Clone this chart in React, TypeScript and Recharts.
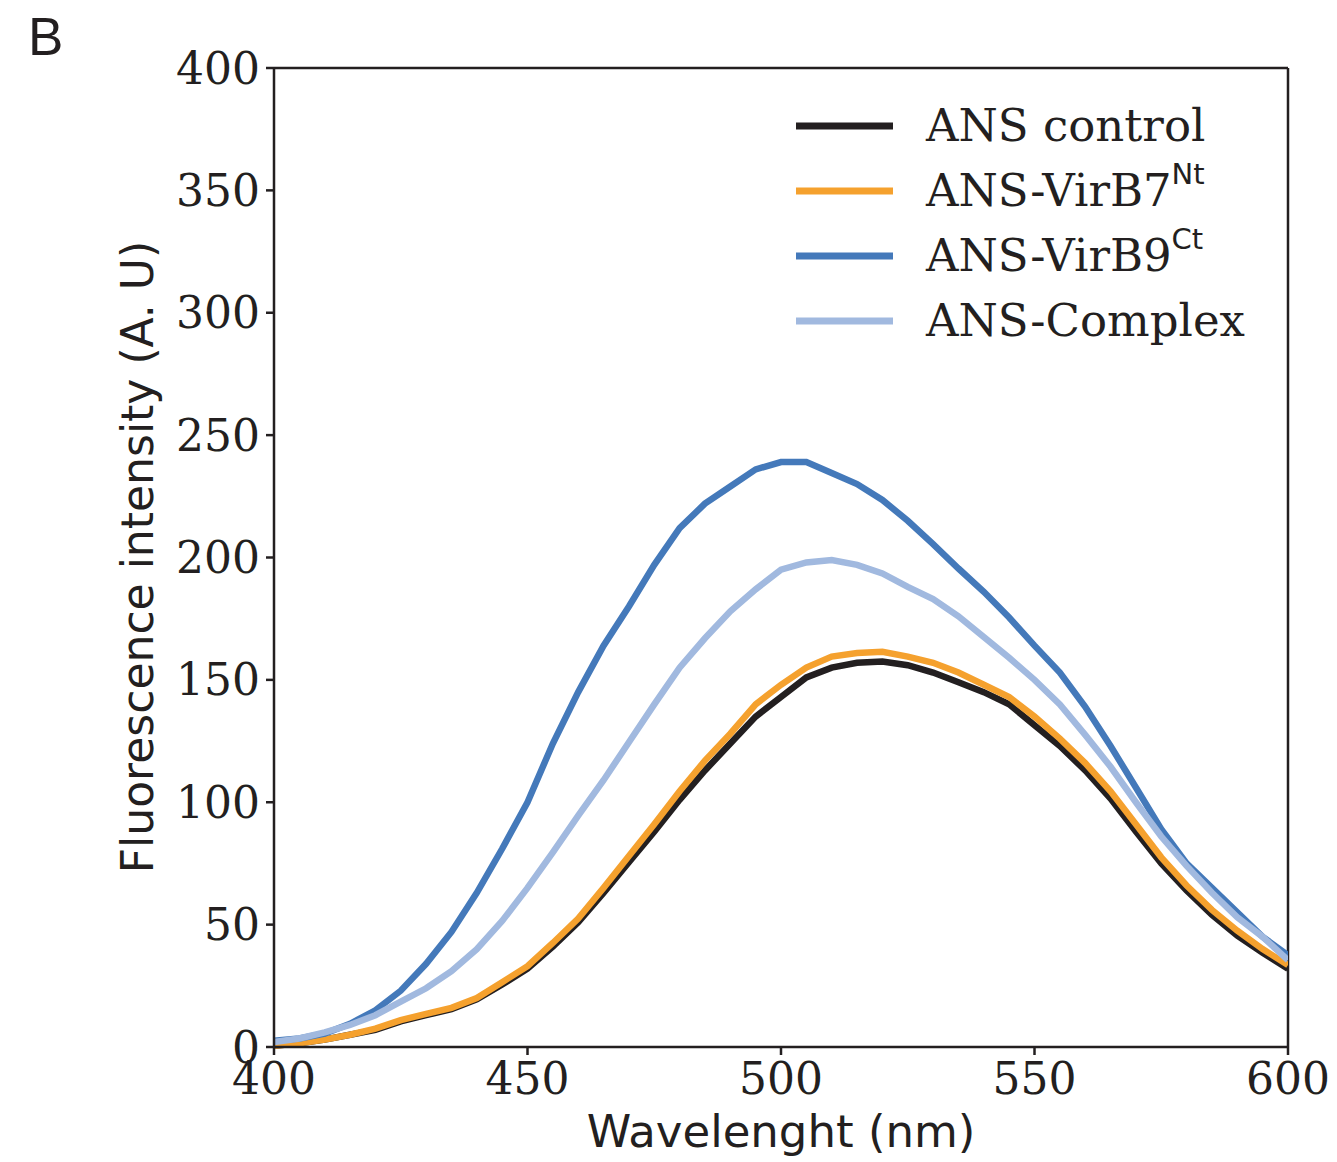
import React from "react";
import { LineChart, Line, XAxis, YAxis, ReferenceLine } from "recharts";

const wavelengths = [
  400, 405, 410, 415, 420, 425, 430, 435, 440, 445, 450, 455, 460, 465, 470, 475, 480, 485, 490, 495,
  500, 505, 510, 515, 520, 525, 530, 535, 540, 545, 550, 555, 560, 565, 570, 575, 580, 585, 590, 595, 600,
];

const ansControl = [
  0.5, 1.5, 3, 5, 7, 10.5, 13, 15.5, 19.5, 25.5, 32, 41, 51, 63, 75.5, 88, 101, 113, 124, 135,
  143, 151, 155, 157, 157.5, 156, 153, 149, 145, 140, 131.5, 123, 113, 101.5, 88, 75, 64, 54, 45.5, 38.5, 32,
];

const ansVirB7 = [
  0.5, 1.5, 3, 5, 7.5, 11, 13.5, 16, 20, 26.5, 33, 42.5, 52.5, 65, 78, 91, 104.5, 117, 128, 140,
  148, 155, 159.5, 161, 161.5, 159.5, 157, 153, 148, 143, 135, 126, 116, 104.5, 91, 77.5, 66, 56, 47.5, 40, 33.5,
];

const ansVirB9 = [
  2.5, 3.5, 5.5, 9.5, 15, 23, 34, 47, 63, 81, 100, 124, 145, 164, 180, 197, 212, 222, 229, 236,
  239, 239, 234.5, 230, 223.5, 215, 205.5, 195.5, 186, 175.5, 164, 153, 139, 123, 106, 89, 75, 65, 55, 45, 37.5,
];

const ansComplex = [
  2, 3.5, 6, 9, 13, 18.5, 24, 31, 40, 51.5, 65, 79.5, 94.5, 109, 124.5, 140, 155, 167, 178, 187,
  195, 198, 199, 197, 193.5, 188, 183, 176, 167.5, 159, 150, 140, 127.5, 114.5, 100, 86, 74, 63, 53, 45, 35.5,
];

const xTicks = [400, 450, 500, 550, 600];
const yTicks = [0, 50, 100, 150, 200, 250, 300, 350, 400];

const seriesKeys = ["control", "virb7", "virb9", "complex"];
const seriesNames = ["ANS control", "ANS-VirB7", "ANS-VirB9", "ANS-Complex"];
const seriesSups = ["", "Nt", "Ct", ""];
const seriesColors = ["#231f20", "#f5a12e", "#4479ba", "#a1b9df"];

const data = wavelengths.map((w, i) => ({
  nm: w,
  control: ansControl[i],
  virb7: ansVirB7[i],
  virb9: ansVirB9[i],
  complex: ansComplex[i],
}));

const SERIF = "'DejaVu Serif', serif";
const SANS = "'DejaVu Sans', sans-serif";
const INK = "#231f20";

function LegendBox() {
  return (
    <div style={{ position: "absolute", left: 796, top: 93, fontFamily: SERIF, color: INK }}>
      {seriesNames.map((name, i) => (
        <div key={name} style={{ display: "flex", alignItems: "center", height: 65 }}>
          <svg width={97} height={10} style={{ marginRight: 33 }}>
            <line x1={0} y1={5} x2={97} y2={5} stroke={seriesColors[i]} strokeWidth={7} />
          </svg>
          <span style={{ fontSize: 45, lineHeight: "45px", whiteSpace: "nowrap" }}>
            {name}
            {seriesSups[i] && (
              <sup style={{ fontFamily: SANS, fontSize: 29, verticalAlign: "0.75em", lineHeight: 0 }}>
                {seriesSups[i]}
              </sup>
            )}
          </span>
        </div>
      ))}
    </div>
  );
}

export default function App() {
  const tickStyle = { fontSize: 44, fill: INK, fontFamily: SERIF };
  const axisLine = { stroke: INK, strokeWidth: 2.5 };
  return (
    <div style={{ position: "absolute", left: 0, top: 0, width: 1337, height: 1162, background: "#fff" }}>
      <div
        style={{
          position: "absolute",
          left: 28,
          top: 6,
          fontFamily: "'Liberation Sans', Arial, sans-serif",
          fontSize: 53,
          color: INK,
        }}
      >
        B
      </div>
      <LineChart
        width={1337}
        height={1162}
        data={data}
        margin={{ top: 68, right: 49, bottom: 55, left: 174 }}
      >
        <XAxis
          dataKey="nm"
          type="number"
          domain={[400, 600]}
          ticks={xTicks}
          tick={tickStyle}
          tickSize={8}
          tickMargin={8}
          axisLine={axisLine}
          tickLine={axisLine}
          height={60}
          allowDataOverflow
        />
        <YAxis
          type="number"
          domain={[0, 400]}
          ticks={yTicks}
          tick={tickStyle}
          tickSize={8}
          tickMargin={6}
          axisLine={axisLine}
          tickLine={axisLine}
          width={100}
          interval={0}
        />
        <ReferenceLine y={400} stroke={INK} strokeWidth={2.5} ifOverflow="visible" />
        <ReferenceLine x={600} stroke={INK} strokeWidth={2.5} ifOverflow="visible" />
        {seriesKeys.map((k, i) => (
          <Line
            key={k}
            dataKey={k}
            name={seriesNames[i]}
            stroke={seriesColors[i]}
            strokeWidth={6.5}
            dot={false}
            type="linear"
            isAnimationActive={false}
          />
        ))}
      </LineChart>
      <LegendBox />
      <div
        style={{
          position: "absolute",
          left: 0,
          width: 1562,
          top: 1105,
          textAlign: "center",
          fontFamily: SANS,
          fontSize: 45,
          color: INK,
        }}
      >
        Wavelenght (nm)
      </div>
      <div
        style={{
          position: "absolute",
          left: 137,
          top: 557,
          transform: "translate(-50%, -50%) rotate(-90deg)",
          whiteSpace: "nowrap",
          fontFamily: SANS,
          fontSize: 44,
          color: INK,
        }}
      >
        Fluorescence intensity (A. U)
      </div>
    </div>
  );
}
